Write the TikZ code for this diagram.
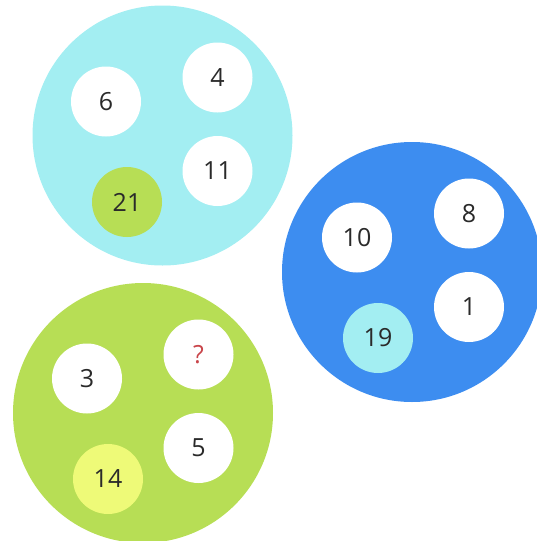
\documentclass[tikz,border=0pt]{standalone}
\usepackage{fontspec}
\setmainfont{Open Sans}
\definecolor{cyanbg}{HTML}{A3EEF2}
\definecolor{bluebg}{HTML}{3D8DF0}
\definecolor{greenbg}{HTML}{B7DE55}
\definecolor{yellowbg}{HTML}{EEFA78}
\definecolor{txt}{HTML}{2A2A2A}
\definecolor{qred}{HTML}{C9454A}
\tikzset{
  big/.style={circle, minimum size=260pt, inner sep=0pt},
  ball/.style={circle, minimum size=70pt, inner sep=0pt, font=\fontsize{25}{30}\selectfont, text=txt},
}
\begin{document}
\begin{tikzpicture}[x=1pt,y=-1pt]
\useasboundingbox (0,0) rectangle (537,541);
\begin{scope}
\clip (0,0) rectangle (537,541);
\node[big, fill=cyanbg] (c1) at (162.5,135.5) {};
\node[big, fill=bluebg] (c2) at (412,272) {};
\node[big, fill=greenbg] (c3) at (143,413) {};
\end{scope}
% cyan
\node[ball, fill=white] (a6) at (106,101.5) {6};
\node[ball, fill=white] (a4) at (217.5,77.5) {4};
\node[ball, fill=white] (a11) at (217.5,171) {11};
\node[ball, fill=greenbg] (a21) at (127,202) {21};
% blue
\node[ball, fill=white] (b10) at (357,237.5) {10};
\node[ball, fill=white] (b8) at (469,213.5) {8};
\node[ball, fill=white] (b1) at (469,307) {1};
\node[ball, fill=cyanbg] (b19) at (378,338) {19};
% green
\node[ball, fill=white] (g3) at (87,378.5) {3};
\node[ball, fill=white, text=qred] (gq) at (198.5,354.5) {?};
\node[ball, fill=white] (g5) at (198.5,448) {5};
\node[ball, fill=yellowbg] (g14) at (108,479) {14};
\end{tikzpicture}
\end{document}
